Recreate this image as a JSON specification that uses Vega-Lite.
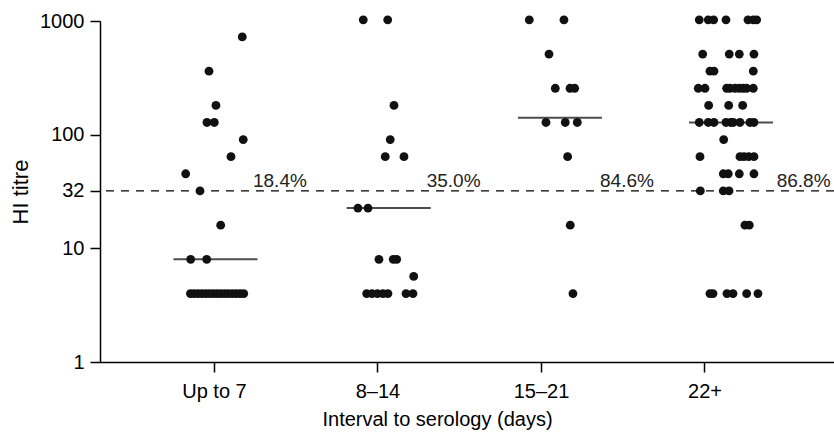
{
  "$schema": "https://vega.github.io/schema/vega-lite/v6.json",
  "width": 734,
  "height": 341,
  "autosize": {"type": "none"},
  "padding": {"left": 100, "top": 21, "right": 0, "bottom": 70},
  "background": "white",
  "config": {
    "view": {"stroke": null},
    "font": "Liberation Sans",
    "axis": {
      "domainColor": "black",
      "domainWidth": 1.5,
      "tickColor": "black",
      "tickWidth": 1.5,
      "tickSize": 10,
      "labelColor": "black",
      "titleColor": "black",
      "labelFont": "Liberation Sans",
      "titleFont": "Liberation Sans",
      "labelFontSize": 20,
      "titleFontSize": 20,
      "titleFontWeight": "normal",
      "grid": false
    }
  },
  "datasets": {
    "dots": [
      {"group": "Up to 7", "titre": 724, "dx": 0.34},
      {"group": "Up to 7", "titre": 362, "dx": -0.067},
      {"group": "Up to 7", "titre": 181, "dx": 0.018},
      {"group": "Up to 7", "titre": 128, "dx": -0.092},
      {"group": "Up to 7", "titre": 128, "dx": -0.002},
      {"group": "Up to 7", "titre": 90.5, "dx": 0.352},
      {"group": "Up to 7", "titre": 64, "dx": 0.202},
      {"group": "Up to 7", "titre": 45.3, "dx": -0.352},
      {"group": "Up to 7", "titre": 32, "dx": -0.177},
      {"group": "Up to 7", "titre": 16, "dx": 0.076},
      {"group": "Up to 7", "titre": 8, "dx": -0.291},
      {"group": "Up to 7", "titre": 8, "dx": -0.095},
      {"group": "Up to 7", "titre": 4, "dx": -0.294},
      {"group": "Up to 7", "titre": 4, "dx": -0.247},
      {"group": "Up to 7", "titre": 4, "dx": -0.2},
      {"group": "Up to 7", "titre": 4, "dx": -0.154},
      {"group": "Up to 7", "titre": 4, "dx": -0.107},
      {"group": "Up to 7", "titre": 4, "dx": -0.061},
      {"group": "Up to 7", "titre": 4, "dx": -0.014},
      {"group": "Up to 7", "titre": 4, "dx": 0.033},
      {"group": "Up to 7", "titre": 4, "dx": 0.079},
      {"group": "Up to 7", "titre": 4, "dx": 0.126},
      {"group": "Up to 7", "titre": 4, "dx": 0.172},
      {"group": "Up to 7", "titre": 4, "dx": 0.219},
      {"group": "Up to 7", "titre": 4, "dx": 0.265},
      {"group": "Up to 7", "titre": 4, "dx": 0.312},
      {"group": "Up to 7", "titre": 4, "dx": 0.358},
      {"group": "8–14", "titre": 1024, "dx": -0.18},
      {"group": "8–14", "titre": 1024, "dx": 0.119},
      {"group": "8–14", "titre": 181, "dx": 0.196},
      {"group": "8–14", "titre": 90.5, "dx": 0.15},
      {"group": "8–14", "titre": 64, "dx": 0.089},
      {"group": "8–14", "titre": 64, "dx": 0.318},
      {"group": "8–14", "titre": 22.6, "dx": -0.245},
      {"group": "8–14", "titre": 22.6, "dx": -0.122},
      {"group": "8–14", "titre": 8, "dx": 0.012},
      {"group": "8–14", "titre": 8, "dx": 0.187},
      {"group": "8–14", "titre": 8, "dx": 0.229},
      {"group": "8–14", "titre": 5.66, "dx": 0.437},
      {"group": "8–14", "titre": 4, "dx": -0.138},
      {"group": "8–14", "titre": 4, "dx": -0.073},
      {"group": "8–14", "titre": 4, "dx": -0.006},
      {"group": "8–14", "titre": 4, "dx": 0.061},
      {"group": "8–14", "titre": 4, "dx": 0.122},
      {"group": "8–14", "titre": 4, "dx": 0.343},
      {"group": "8–14", "titre": 4, "dx": 0.428},
      {"group": "15–21", "titre": 1024, "dx": -0.149},
      {"group": "15–21", "titre": 1024, "dx": 0.275},
      {"group": "15–21", "titre": 512, "dx": 0.092},
      {"group": "15–21", "titre": 256, "dx": 0.169},
      {"group": "15–21", "titre": 256, "dx": 0.349},
      {"group": "15–21", "titre": 256, "dx": 0.406},
      {"group": "15–21", "titre": 128, "dx": 0.055},
      {"group": "15–21", "titre": 128, "dx": 0.291},
      {"group": "15–21", "titre": 128, "dx": 0.438},
      {"group": "15–21", "titre": 64, "dx": 0.32},
      {"group": "15–21", "titre": 16, "dx": 0.352},
      {"group": "15–21", "titre": 4, "dx": 0.385},
      {"group": "22+", "titre": 1024, "dx": -0.07},
      {"group": "22+", "titre": 1024, "dx": 0.04},
      {"group": "22+", "titre": 1024, "dx": 0.106},
      {"group": "22+", "titre": 1024, "dx": 0.257},
      {"group": "22+", "titre": 1024, "dx": 0.526},
      {"group": "22+", "titre": 1024, "dx": 0.591},
      {"group": "22+", "titre": 1024, "dx": 0.632},
      {"group": "22+", "titre": 512, "dx": -0.028},
      {"group": "22+", "titre": 512, "dx": 0.297},
      {"group": "22+", "titre": 512, "dx": 0.42},
      {"group": "22+", "titre": 512, "dx": 0.599},
      {"group": "22+", "titre": 362, "dx": 0.061},
      {"group": "22+", "titre": 362, "dx": 0.11},
      {"group": "22+", "titre": 362, "dx": 0.591},
      {"group": "22+", "titre": 256, "dx": -0.082},
      {"group": "22+", "titre": 256, "dx": 0.0},
      {"group": "22+", "titre": 256, "dx": 0.265},
      {"group": "22+", "titre": 256, "dx": 0.306},
      {"group": "22+", "titre": 256, "dx": 0.367},
      {"group": "22+", "titre": 256, "dx": 0.42},
      {"group": "22+", "titre": 256, "dx": 0.468},
      {"group": "22+", "titre": 256, "dx": 0.51},
      {"group": "22+", "titre": 256, "dx": 0.591},
      {"group": "22+", "titre": 181, "dx": 0.045},
      {"group": "22+", "titre": 181, "dx": 0.29},
      {"group": "22+", "titre": 181, "dx": 0.461},
      {"group": "22+", "titre": 128, "dx": -0.07},
      {"group": "22+", "titre": 128, "dx": 0.04},
      {"group": "22+", "titre": 128, "dx": 0.11},
      {"group": "22+", "titre": 128, "dx": 0.257},
      {"group": "22+", "titre": 128, "dx": 0.314},
      {"group": "22+", "titre": 128, "dx": 0.346},
      {"group": "22+", "titre": 128, "dx": 0.428},
      {"group": "22+", "titre": 128, "dx": 0.55},
      {"group": "22+", "titre": 128, "dx": 0.599},
      {"group": "22+", "titre": 90.5, "dx": 0.229},
      {"group": "22+", "titre": 64, "dx": -0.061},
      {"group": "22+", "titre": 64, "dx": 0.428},
      {"group": "22+", "titre": 64, "dx": 0.477},
      {"group": "22+", "titre": 64, "dx": 0.535},
      {"group": "22+", "titre": 64, "dx": 0.599},
      {"group": "22+", "titre": 45.3, "dx": 0.224},
      {"group": "22+", "titre": 45.3, "dx": 0.285},
      {"group": "22+", "titre": 45.3, "dx": 0.42},
      {"group": "22+", "titre": 45.3, "dx": 0.599},
      {"group": "22+", "titre": 32, "dx": -0.057},
      {"group": "22+", "titre": 32, "dx": 0.224},
      {"group": "22+", "titre": 32, "dx": 0.294},
      {"group": "22+", "titre": 16, "dx": 0.489},
      {"group": "22+", "titre": 16, "dx": 0.542},
      {"group": "22+", "titre": 4, "dx": 0.061},
      {"group": "22+", "titre": 4, "dx": 0.098},
      {"group": "22+", "titre": 4, "dx": 0.269},
      {"group": "22+", "titre": 4, "dx": 0.343},
      {"group": "22+", "titre": 4, "dx": 0.51},
      {"group": "22+", "titre": 4, "dx": 0.648}
    ],
    "medians": [
      {"group": "Up to 7", "median": 8, "dx": 0.012},
      {"group": "8–14", "median": 22.6, "dx": 0.131},
      {"group": "15–21", "median": 141, "dx": 0.226},
      {"group": "22+", "median": 128, "dx": 0.318}
    ],
    "labels": [
      {"group": "Up to 7", "pct": "18.4%", "dx": 0.471},
      {"group": "8–14", "pct": "35.0%", "dx": 0.596},
      {"group": "15–21", "pct": "84.6%", "dx": 0.716},
      {"group": "22+", "pct": "86.8%", "dx": 0.877}
    ],
    "threshold": [{"value": 32}]
  },
  "encoding": {
    "x": {
      "field": "group",
      "type": "nominal",
      "sort": ["Up to 7", "8–14", "15–21", "22+"],
      "scale": {"type": "band", "paddingInner": 0, "paddingOuter": 0.2446, "align": 0.409},
      "axis": {
        "title": "Interval to serology (days)",
        "labelAngle": 0,
        "labelPadding": 9,
        "titlePadding": 8,
        "titleX": 337,
        "titleAlign": "center",
        "titleAnchor": null
      }
    }
  },
  "layer": [
    {
      "data": {"name": "threshold"},
      "mark": {"type": "rule", "color": "black", "strokeWidth": 1.3, "strokeDash": [8, 7]},
      "encoding": {"y": {"field": "value", "type": "quantitative"}, "x": null}
    },
    {
      "data": {"name": "medians"},
      "mark": {"type": "tick", "orient": "horizontal", "size": 84, "thickness": 2, "color": "black"},
      "encoding": {
        "y": {"field": "median", "type": "quantitative"},
        "xOffset": {"field": "dx", "type": "quantitative"}
      }
    },
    {
      "data": {"name": "dots"},
      "mark": {"type": "circle", "size": 78, "color": "#111111", "opacity": 1},
      "encoding": {
        "y": {
          "field": "titre",
          "type": "quantitative",
          "scale": {"type": "log", "domain": [1, 1000], "clamp": false, "nice": false},
          "axis": {"title": "HI titre", "values": [1, 10, 32, 100, 1000], "format": "d", "labelPadding": 6, "titlePadding": 7, "titleFontSize": 22}
        },
        "xOffset": {"field": "dx", "type": "quantitative", "scale": {"domain": [-1, 1], "nice": false, "zero": false}}
      }
    },
    {
      "data": {"name": "labels"},
      "mark": {"type": "text", "align": "left", "baseline": "alphabetic", "dy": -4, "fontSize": 19, "font": "Liberation Sans", "color": "#222222"},
      "encoding": {
        "y": {"datum": 32, "type": "quantitative"},
        "xOffset": {"field": "dx", "type": "quantitative"},
        "text": {"field": "pct"}
      }
    }
  ]
}
